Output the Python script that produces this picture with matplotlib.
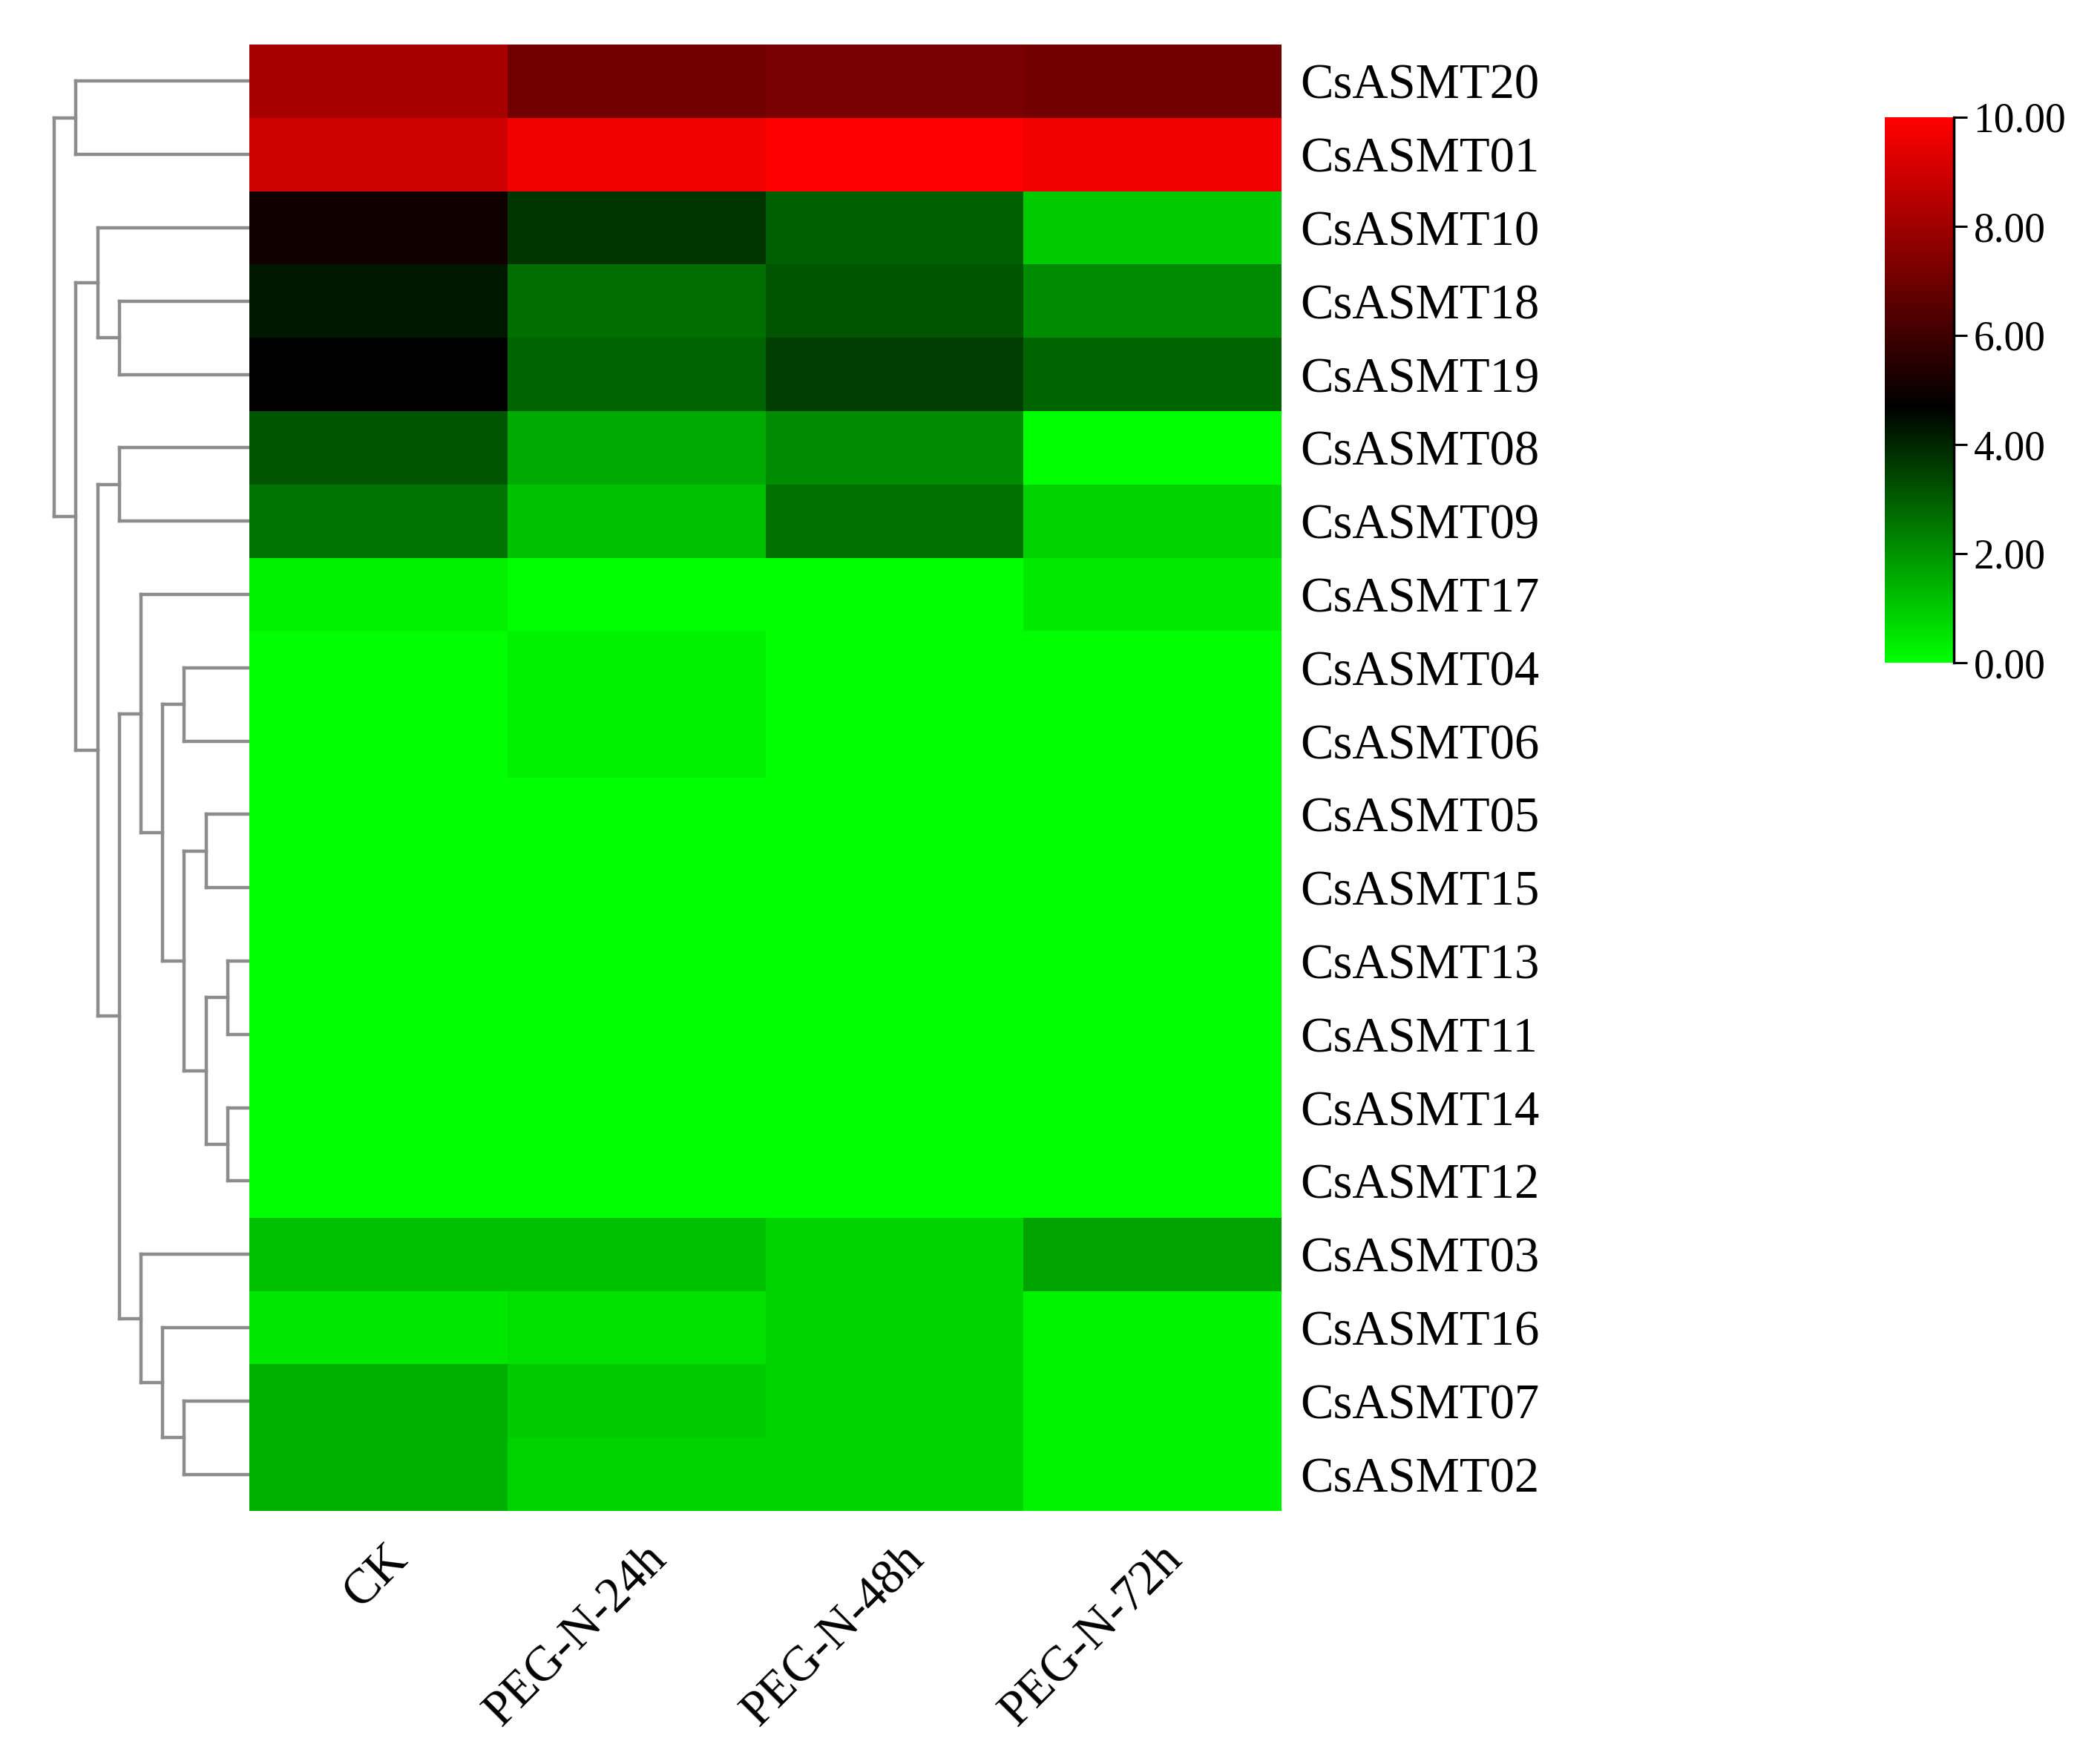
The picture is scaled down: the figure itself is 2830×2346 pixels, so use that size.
import numpy as np
import matplotlib
matplotlib.use('Agg')
import matplotlib.pyplot as plt
from matplotlib.colors import LinearSegmentedColormap
from matplotlib.transforms import ScaledTranslation

# ---------------- data ----------------
genes = ["CsASMT20", "CsASMT01", "CsASMT10", "CsASMT18", "CsASMT19",
         "CsASMT08", "CsASMT09", "CsASMT17", "CsASMT04", "CsASMT06",
         "CsASMT05", "CsASMT15", "CsASMT13", "CsASMT11", "CsASMT14",
         "CsASMT12", "CsASMT03", "CsASMT16", "CsASMT07", "CsASMT02"]
conditions = ["CK", "PEG-N-24h", "PEG-N-48h", "PEG-N-72h"]

ck    = [8.13, 8.96, 5.07, 4.26, 4.70, 3.13, 2.58, 0.31, 0.00, 0.00,
         0.00, 0.00, 0.00, 0.00, 0.00, 0.00, 1.16, 0.46, 1.46, 1.46]
peg24 = [7.09, 9.69, 3.72, 2.67, 2.86, 1.60, 1.16, 0.00, 0.24, 0.24,
         0.00, 0.00, 0.00, 0.00, 0.00, 0.00, 1.16, 0.57, 1.01, 0.79]
peg48 = [7.19, 10.00, 2.93, 3.13, 3.59, 2.12, 2.64, 0.00, 0.00, 0.00,
         0.00, 0.00, 0.00, 0.00, 0.00, 0.00, 0.79, 0.79, 0.79, 0.79]
peg72 = [7.09, 9.69, 1.01, 2.12, 2.86, 0.00, 0.83, 0.42, 0.00, 0.00,
         0.00, 0.00, 0.00, 0.00, 0.00, 0.00, 1.68, 0.20, 0.20, 0.20]

cbar_ticks = [0, 2, 4, 6, 8, 10]

# dendrogram: (merge height, left, right)
tree = (9, (8, "CsASMT20", "CsASMT01"),
        (8, (7, "CsASMT10", (6, "CsASMT18", "CsASMT19")),
         (7, (6, "CsASMT08", "CsASMT09"),
          (6, (5, "CsASMT17",
               (4, (3, "CsASMT04", "CsASMT06"),
                (3, (2, "CsASMT05", "CsASMT15"),
                 (2, (1, "CsASMT13", "CsASMT11"), (1, "CsASMT14", "CsASMT12"))))),
           (5, "CsASMT03", (4, "CsASMT16", (3, "CsASMT07", "CsASMT02")))))))

# ---------------- figure ----------------
W, H = 2830, 2346
DPI = 100
plt.rcParams['font.family'] = ['Liberation Serif', 'DejaVu Serif']
fig = plt.figure(figsize=(W / DPI, H / DPI), dpi=DPI)

cmap = LinearSegmentedColormap.from_list(
    'gbr', [(0.0, '#00ff00'), (0.47, '#000000'), (1.0, '#ff0000')])

values = np.column_stack([ck, peg24, peg48, peg72])

hm_left, hm_right, hm_top, hm_bottom = 336, 1727, 60, 2036
ax = fig.add_axes([hm_left / W, 1 - hm_bottom / H,
                   (hm_right - hm_left) / W, (hm_bottom - hm_top) / H])
mesh = ax.pcolormesh(np.arange(len(conditions) + 1), np.arange(len(genes) + 1),
                     values, cmap=cmap, vmin=0, vmax=10, antialiased=False,
                     linewidth=0)
ax.set_xlim(0, len(conditions))
ax.set_ylim(len(genes), 0)
for s in ax.spines.values():
    s.set_visible(False)

ax.yaxis.tick_right()
ax.set_yticks(np.arange(len(genes)) + 0.5)
ax.set_yticklabels(genes, fontsize=48)
ax.tick_params(axis='y', length=0, pad=18)

ax.set_xticks(np.arange(len(conditions)) + 0.5)
ax.set_xticklabels(conditions, fontsize=48, rotation=45, ha='right',
                   va='center', rotation_mode='anchor')
ax.tick_params(axis='x', length=0, pad=40)
offset = ScaledTranslation(0.30, 0, fig.dpi_scale_trans)
for lab in ax.get_xticklabels():
    lab.set_transform(lab.get_transform() + offset)

# ---------------- dendrogram ----------------
dn_left = 40
dax = fig.add_axes([dn_left / W, 1 - hm_bottom / H,
                    (hm_left - dn_left) / W, (hm_bottom - hm_top) / H])
dax.set_xlim((hm_left - dn_left) / 29.2, 0)
dax.set_ylim(len(genes), 0)
dax.axis('off')

pos = {g: i + 0.5 for i, g in enumerate(genes)}
line_kw = dict(color='#8c8c8c', lw=3.2, solid_capstyle='projecting')


def draw(node):
    if isinstance(node, str):
        return pos[node], 0.0
    h, a, b = node
    ya, ha = draw(a)
    yb, hb = draw(b)
    dax.plot([ha, h], [ya, ya], **line_kw)
    dax.plot([hb, h], [yb, yb], **line_kw)
    dax.plot([h, h], [ya, yb], **line_kw)
    return (ya + yb) / 2, h


draw(tree)

# ---------------- colorbar ----------------
cax = fig.add_axes([2540 / W, 1 - 893 / H, 93 / W, 735 / H])
cb = fig.colorbar(mesh, cax=cax, ticks=cbar_ticks)
cb.outline.set_visible(False)
cax.plot([1, 1], [0, 1], transform=cax.transAxes, color='black', lw=2.5,
         clip_on=False)
cax.tick_params(length=13, width=2.2, labelsize=40, pad=6, color='black')
cb.ax.set_yticklabels([f"{t:.2f}" for t in cbar_ticks])

fig.savefig('out.png', dpi=DPI, facecolor='white')
